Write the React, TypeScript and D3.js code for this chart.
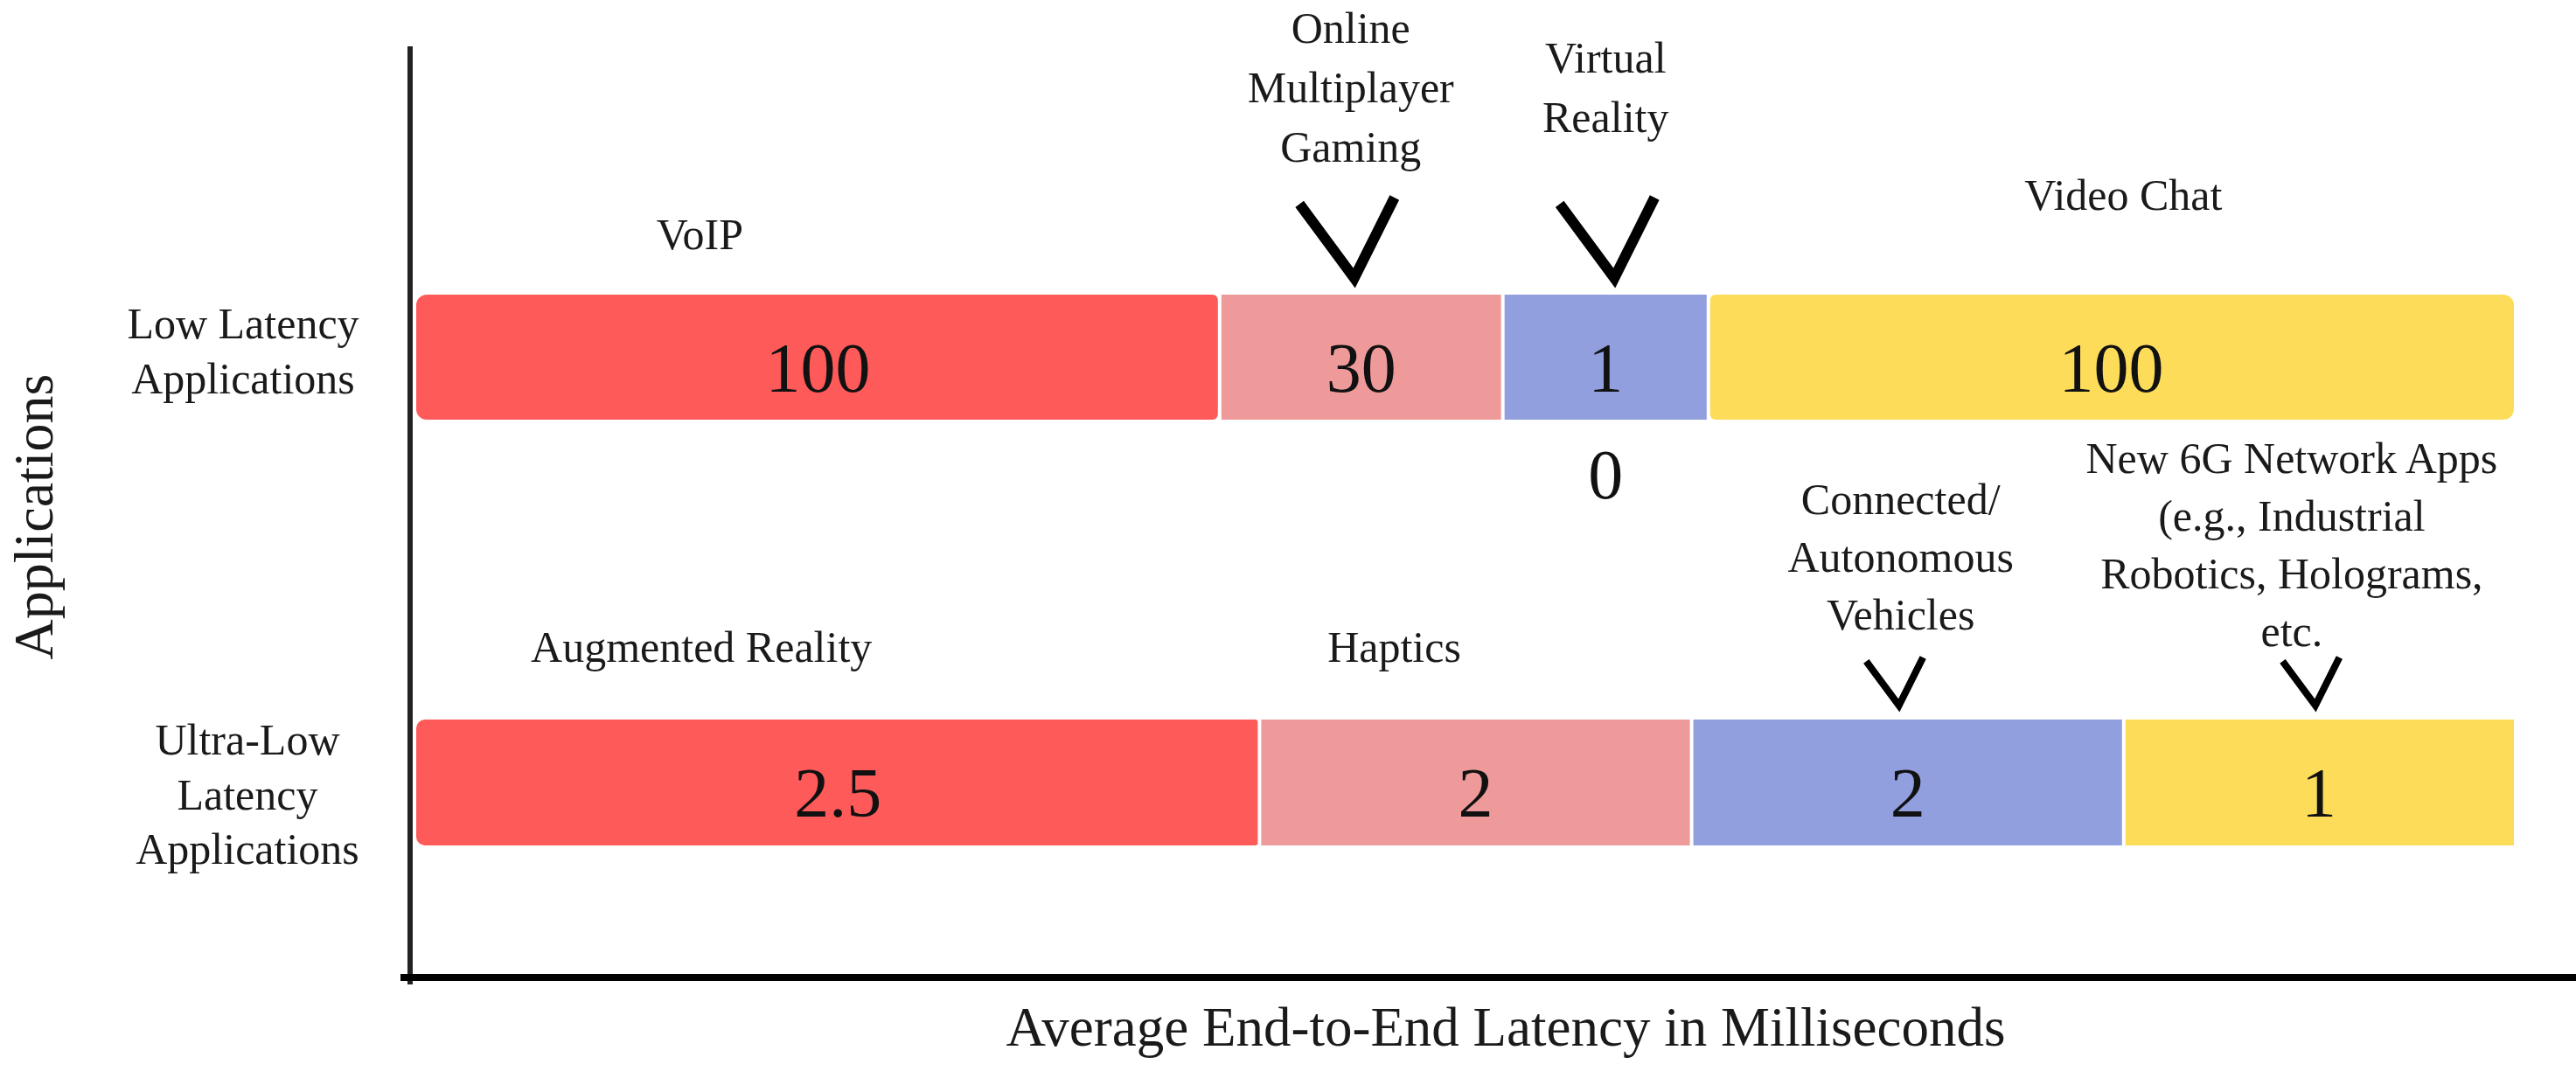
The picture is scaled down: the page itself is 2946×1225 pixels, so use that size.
import React from "react";
import * as d3 from "d3";

// ---- data ----
const rowNames = ["Low Latency Applications", "Ultra-Low Latency Applications"];
const rowLabelLines = [["Low Latency", "Applications"], ["Ultra-Low", "Latency", "Applications"]];
const lowApps = [["VoIP"], ["Online", "Multiplayer", "Gaming"], ["Virtual", "Reality"], ["Video Chat"]];
const ultraApps = [["Augmented Reality"], ["Haptics"], ["Connected/", "Autonomous", "Vehicles"], ["New 6G Network Apps", "(e.g., Industrial", "Robotics, Holograms,", "etc."]];
const lowLatencyMs = ["100", "30", "10", "100"];
const ultraLatencyMs = ["2.5", "2", "2", "1"];
// displayed share of each bar (%) – the figure is not drawn to scale
const lowShare = [38.3, 13.5, 9.8, 38.4];
const ultraShare = [40.2, 20.6, 20.6, 18.6];
const lowMarked = [false, true, true, false];
const ultraMarked = [false, false, true, true];
const colors = ["#FF5A5A", "#EF9A9A", "#919FDF", "#FDDC5A"];
const xTitle = "Average End-to-End Latency in Milliseconds";
const yTitle = "Applications";

// ---- layout ----
const W = 2946, H = 1225;
const FONT = "'Liberation Serif', 'Times New Roman', serif";
const barX0 = 476, barX1 = 2875;
const rowTop = [337, 823];
const rowH = [143, 144];
const labelBase = [[285, 49, 83, 240], [757, 757, 588, 541]];
const labelDx = [[-135, -12, 0, 14], [-156, -93, -8, -31]];
const labelLH = [68, 66];
const markTip = [318, 807];
const markSize = [92, 55];
const markDx = [[0, -8, 10, 0], [0, 0, -10, -4]];
const markStroke = [12, 8];
// corner radii [left, right] per segment
const lowRadii = [[12, 6], [0, 0], [0, 0], [6, 12]];
const ultraRadii = [[10, 3], [0, 0], [0, 0], [0, 0]];

function seg(x: number, y: number, w: number, h: number, rl: number, rr: number) {
  const p = d3.path();
  p.moveTo(x + rl, y);
  p.lineTo(x + w - rr, y);
  if (rr > 0) p.arcTo(x + w, y, x + w, y + rr, rr); else p.lineTo(x + w, y);
  p.lineTo(x + w, y + h - rr);
  if (rr > 0) p.arcTo(x + w, y + h, x + w - rr, y + h, rr); else p.lineTo(x + w, y + h);
  p.lineTo(x + rl, y + h);
  if (rl > 0) p.arcTo(x, y + h, x, y + h - rl, rl); else p.lineTo(x, y + h);
  p.lineTo(x, y + rl);
  if (rl > 0) p.arcTo(x, y, x + rl, y, rl); else p.lineTo(x, y);
  p.closePath();
  return p.toString();
}

export default function App() {
  const x = d3.scaleLinear().domain([0, 100]).range([barX0, barX1]);
  const rows = [
    { share: lowShare, vals: lowLatencyMs, apps: lowApps, marked: lowMarked, radii: lowRadii },
    { share: ultraShare, vals: ultraLatencyMs, apps: ultraApps, marked: ultraMarked, radii: ultraRadii },
  ];
  const markLine = d3.line<[number, number]>();

  return (
    <svg width={W} height={H} style={{ position: "absolute", left: 0, top: 0, background: "#fff" }}
      fontFamily={FONT}>
      <rect width={W} height={H} fill="#fff" />
      {rows.map((row, ri) => {
        const cum = d3.cumsum(row.share);
        const y0 = rowTop[ri], h = rowH[ri];
        return (
          <g key={ri}>
            {row.share.map((s, i) => {
              const a = x(cum[i] - s), b = x(cum[i]);
              const gl = i === 0 ? 0 : 2, gr = i === row.share.length - 1 ? 0 : 2;
              const xs = a + gl, ws = b - a - gl - gr;
              const [rl, rr] = row.radii[i];
              const cx = (a + b) / 2;
              const v = row.vals[i];
              const split = b - a < 250;
              const lines = split ? v.split("") : [v];
              const lb = labelBase[ri][i];
              const tip = markTip[ri], ms = markSize[ri];
              const mx = cx + markDx[ri][i];
              return (
                <g key={i}>
                  <path d={seg(xs, y0, ws, h, rl, rr)} fill={colors[i]} />
                  {lines.map((t, li) => (
                    <text key={li} x={cx} y={y0 + h / 2 + 13 + 26 + li * 122} textAnchor="middle"
                      fontSize={80} fill="#111">{t}</text>
                  ))}
                  {row.apps[i].map((t, li) => (
                    <text key={"l" + li} x={cx + labelDx[ri][i]} y={lb + li * labelLH[ri]} textAnchor="middle"
                      fontSize={50} fill="#1a1a1a">{t}</text>
                  ))}
                  {row.marked[i] && (
                    <path
                      d={markLine([[mx - 0.68 * ms, tip - 0.92 * ms], [mx, tip], [mx + 0.5 * ms, tip - ms]]) || ""}
                      fill="none" stroke="#000" strokeWidth={markStroke[ri]} strokeLinejoin="miter" />
                  )}
                </g>
              );
            })}
          </g>
        );
      })}

      {/* row labels */}
      {rowLabelLines.map((lines, ri) => (
        <g key={rowNames[ri]}>
          {lines.map((t, li) => (
            <text key={li} x={ri === 0 ? 278 : 283} y={(ri === 0 ? 387 : 863) + li * (ri === 0 ? 63 : 62.5)}
              textAnchor="middle" fontSize={50} fill="#1a1a1a">{t}</text>
          ))}
        </g>
      ))}

      {/* axes */}
      <line x1={469} x2={469} y1={53} y2={1126} stroke="#222" strokeWidth={6} />
      <line x1={458} x2={W} y1={1118} y2={1118} stroke="#000" strokeWidth={8} />

      <text x={1722} y={1196} textAnchor="middle" fontSize={63} fill="#1a1a1a">{xTitle}</text>
      <text transform="translate(60,591) rotate(-90)" textAnchor="middle" fontSize={64} fill="#1a1a1a">{yTitle}</text>
    </svg>
  );
}
